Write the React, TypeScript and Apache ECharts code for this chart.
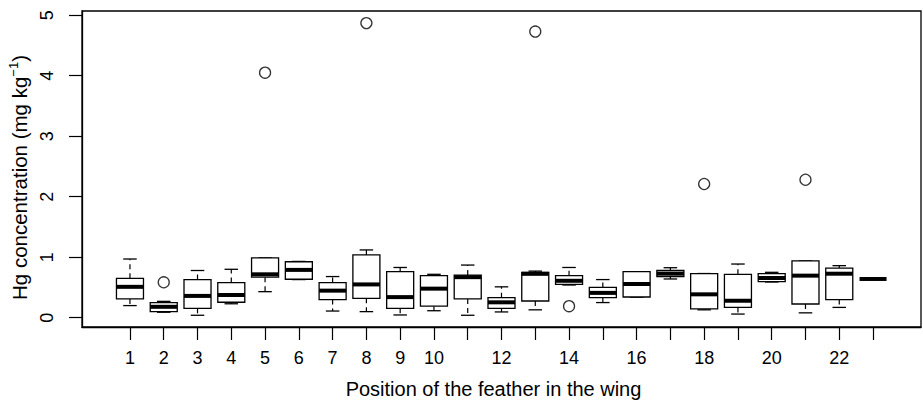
import React, { useEffect, useRef } from "react";
import * as echarts from "echarts";

// ---- data ----
const positions = [1, 2, 3, 4, 5, 6, 7, 8, 9, 10, 11, 12, 13, 14, 15, 16, 17, 18, 19, 20, 21, 22, 23];
const whiskerLow = [0.2, 0.09, 0.04, 0.23, 0.43, 0.63, 0.11, 0.1, 0.045, 0.115, 0.04, 0.095, 0.13, 0.54, 0.25, 0.34, 0.64, 0.13, 0.06, 0.59, 0.08, 0.17, 0.64];
const quartile1 = [0.31, 0.1, 0.155, 0.255, 0.67, 0.635, 0.3, 0.32, 0.155, 0.19, 0.31, 0.155, 0.276, 0.55, 0.33, 0.342, 0.68, 0.144, 0.17, 0.595, 0.226, 0.3, 0.64];
const medians = [0.51, 0.18, 0.36, 0.375, 0.717, 0.79, 0.447, 0.55, 0.34, 0.48, 0.67, 0.254, 0.725, 0.61, 0.41, 0.557, 0.727, 0.386, 0.28, 0.656, 0.695, 0.727, 0.64];
const quartile3 = [0.65, 0.25, 0.63, 0.58, 0.99, 0.925, 0.58, 1.037, 0.76, 0.695, 0.705, 0.33, 0.75, 0.695, 0.5, 0.76, 0.78, 0.727, 0.717, 0.727, 0.94, 0.82, 0.64];
const whiskerHigh = [0.97, 0.27, 0.78, 0.8, 0.99, 0.93, 0.68, 1.12, 0.83, 0.717, 0.87, 0.51, 0.77, 0.83, 0.63, 0.76, 0.826, 0.73, 0.887, 0.75, 0.94, 0.86, 0.64];

const outlierPositions = [2, 5, 8, 13, 14, 18, 21];
const outlierValues = [0.585, 4.05, 4.87, 4.73, 0.19, 2.21, 2.28];

const xTickValues = positions;
const xLabelValues = [1, 2, 3, 4, 5, 6, 7, 8, 9, 10, 12, 14, 16, 18, 20, 22];
const yTickValues = [0, 1, 2, 3, 4, 5];

const xTitle = "Position of the feather in the wing";
const FONT = "'Liberation Sans', Arial, Helvetica, sans-serif";

export default function App() {
  const ref = useRef<HTMLDivElement | null>(null);

  useEffect(() => {
    if (!ref.current) return;
    const chart = echarts.init(ref.current, undefined, { renderer: "svg" });

    const boxRows = positions.map((p, i) => [
      p,
      whiskerLow[i],
      quartile1[i],
      medians[i],
      quartile3[i],
      whiskerHigh[i],
    ]);
    const outlierRows = outlierPositions.map((p, i) => [p, outlierValues[i]]);

    const renderItem = (params: any, api: any) => {
      const x = api.value(0);
      const lo = api.value(1);
      const q1 = api.value(2);
      const med = api.value(3);
      const q3 = api.value(4);
      const hi = api.value(5);
      const unit = api.size([1, 0])[0];
      const half = unit * 0.4;
      const capHalf = unit * 0.2;
      const pLo = api.coord([x, lo]);
      const pQ1 = api.coord([x, q1]);
      const pMed = api.coord([x, med]);
      const pQ3 = api.coord([x, q3]);
      const pHi = api.coord([x, hi]);
      const cx = pMed[0];
      const stroke = { stroke: "#000", lineWidth: 1.3, fill: "none" };
      const dashed = { stroke: "#000", lineWidth: 1.2, lineDash: [5, 4], fill: "none" };
      const children: any[] = [];
      if (pQ3[1] - pHi[1] > 0.5) {
        children.push({ type: "line", shape: { x1: cx, y1: pQ3[1], x2: cx, y2: pHi[1] }, style: dashed });
      }
      if (pLo[1] - pQ1[1] > 0.5) {
        children.push({ type: "line", shape: { x1: cx, y1: pQ1[1], x2: cx, y2: pLo[1] }, style: dashed });
      }
      if (hi !== lo) {
        children.push({ type: "line", shape: { x1: cx - capHalf, y1: pHi[1], x2: cx + capHalf, y2: pHi[1] }, style: stroke });
        children.push({ type: "line", shape: { x1: cx - capHalf, y1: pLo[1], x2: cx + capHalf, y2: pLo[1] }, style: stroke });
      }
      if (q3 !== q1) {
        children.push({
          type: "rect",
          shape: { x: cx - half, y: pQ3[1], width: half * 2, height: pQ1[1] - pQ3[1] },
          style: { stroke: "#000", lineWidth: 1.3, fill: "#fff" },
        });
      }
      children.push({
        type: "line",
        shape: { x1: cx - half, y1: pMed[1], x2: cx + half, y2: pMed[1] },
        style: { stroke: "#000", lineWidth: 4, fill: "none" },
      });
      return { type: "group", children };
    };

    chart.setOption({
      animation: false,
      backgroundColor: "#fff",
      textStyle: { fontFamily: FONT, color: "#000" },
      grid: {
        left: 82,
        right: 2,
        top: 11,
        bottom: 74,
        show: true,
        borderColor: "#000",
        borderWidth: 1.3,
        backgroundColor: "transparent",
        outerBoundsMode: "none",
        containLabel: false,
      },
      xAxis: {
        type: "value",
        min: -0.42,
        max: 24.42,
        splitLine: { show: false },
        axisLine: { show: true, onZero: false, lineStyle: { color: "#000", width: 1.3 } },
        axisTick: { show: true, length: 13, customValues: xTickValues, lineStyle: { color: "#000", width: 1.2 } },
        axisLabel: {
          show: true,
          customValues: xLabelValues,
          margin: 22,
          fontSize: 18,
          color: "#000",
          fontFamily: FONT,
        },
        name: xTitle,
        nameLocation: "middle",
        nameGap: 52,
        nameTextStyle: { fontSize: 20, color: "#000", fontFamily: FONT, padding: [0, 16, 0, 0] },
      },
      yAxis: {
        type: "value",
        min: -0.154,
        max: 5.07,
        splitLine: { show: false },
        axisLine: { show: true, onZero: false, lineStyle: { color: "#000", width: 1.3 } },
        axisTick: { show: true, length: 13, customValues: yTickValues, lineStyle: { color: "#000", width: 1.2 } },
        axisLabel: {
          show: true,
          customValues: yTickValues,
          rotate: 90,
          margin: 26,
          fontSize: 18,
          color: "#000",
          fontFamily: FONT,
        },
        name: "{a|Hg concentration (mg kg}{s|\u22121}{a|)}",
        nameLocation: "middle",
        nameGap: 43,
        nameTextStyle: {
          fontSize: 20,
          color: "#000",
          fontFamily: FONT,
          padding: [0, 17, 0, 0],
          rich: {
            a: { fontSize: 20.5, fontFamily: FONT, color: "#000", lineHeight: 26 },
            s: { fontSize: 13, fontFamily: FONT, color: "#000", verticalAlign: "top", lineHeight: 14 },
          },
        },
      },
      series: [
        {
          type: "custom",
          renderItem,
          data: boxRows,
          encode: { x: 0, y: [1, 2, 3, 4, 5] },
          silent: true,
        },
        {
          type: "scatter",
          data: outlierRows,
          symbol: "circle",
          symbolSize: 11,
          itemStyle: { color: "#fff", borderColor: "#000", borderWidth: 1.3 },
          silent: true,
          z: 3,
        },
      ],
    });

    return () => chart.dispose();
  }, []);

  return (
    <div
      ref={ref}
      style={{ position: "fixed", left: 0, top: 0, width: 923, height: 401, background: "#fff" }}
    />
  );
}
